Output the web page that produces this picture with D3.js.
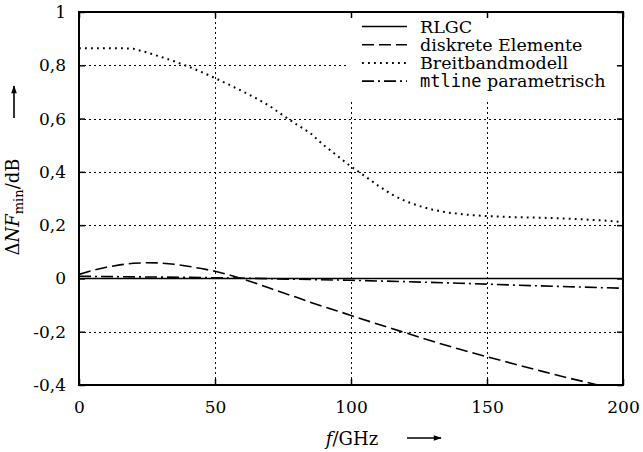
<!DOCTYPE html>
<html><head><meta charset="utf-8">
<script src="https://cdn.jsdelivr.net/npm/d3@7"></script>
<style>body{margin:0;background:#fff}svg{display:block}text{font-family:"DejaVu Serif",serif;fill:#000}</style>
</head><body><svg id="c" width="643" height="452"></svg>
<script>
// ---- data ----
const xTicks = [0, 50, 100, 150, 200];
const yTicks = [-0.4, -0.2, 0, 0.2, 0.4, 0.6, 0.8, 1];
const yTickLabels = ["-0,4", "-0,2", "0", "0,2", "0,4", "0,6", "0,8", "1"];
const seriesNames = ["RLGC", "diskrete Elemente", "Breitbandmodell", "mtline parametrisch"];

const fRLGC = [0, 200];
const vRLGC = [0, 0];

const fDisk = [0, 5, 10, 15, 20, 25, 30, 35, 40, 45, 50, 55, 60, 65, 70, 75, 80, 85, 90, 95, 100, 110, 120, 130, 140, 150, 160, 170, 180, 190, 200];
const vDisk = [0.015, 0.03, 0.042, 0.051, 0.057, 0.059, 0.058, 0.053, 0.046, 0.037, 0.027, 0.014, -0.002, -0.018, -0.036, -0.054, -0.071, -0.089, -0.106, -0.122, -0.139, -0.172, -0.204, -0.236, -0.266, -0.294, -0.321, -0.348, -0.374, -0.398, -0.42];

const fBreit = [0, 5, 10, 15, 20, 25, 30, 35, 40, 45, 50, 55, 60, 65, 70, 75, 80, 85, 90, 95, 100, 105, 110, 115, 120, 125, 130, 135, 140, 145, 150, 155, 160, 165, 170, 175, 180, 185, 190, 195, 200];
const vBreit = [0.864, 0.864, 0.864, 0.864, 0.862, 0.848, 0.832, 0.815, 0.796, 0.775, 0.752, 0.728, 0.703, 0.677, 0.648, 0.612, 0.578, 0.546, 0.50, 0.46, 0.42, 0.385, 0.348, 0.315, 0.29, 0.272, 0.258, 0.248, 0.242, 0.237, 0.234, 0.232, 0.230, 0.229, 0.228, 0.226, 0.224, 0.222, 0.219, 0.216, 0.211];

const fMt = [0, 20, 40, 60, 80, 100, 120, 140, 160, 180, 200];
const vMt = [0.008, 0.006, 0.004, 0.001, -0.003, -0.007, -0.012, -0.018, -0.025, -0.031, -0.037];

// ---- layout ----
const L = 79, R = 623, T = 12, B = 385;
const FONT = "'DejaVu Serif',serif";
const svg = d3.select("#c");
const x = d3.scaleLinear().domain([0, 200]).range([L, R]);
const y = d3.scaleLinear().domain([-0.4, 1]).range([B, T]);

const defs = svg.append("defs");
defs.append("clipPath").attr("id", "clip").append("rect")
  .attr("x", L).attr("y", T).attr("width", R - L).attr("height", B - T);
const mk = defs.append("marker").attr("id", "arr").attr("viewBox", "0 0 10 10")
  .attr("refX", 9).attr("refY", 5).attr("markerWidth", 11).attr("markerHeight", 8)
  .attr("markerUnits", "userSpaceOnUse").attr("orient", "auto");
mk.append("path").attr("d", "M0,1.5 L10,5 L0,8.5 Z").attr("fill", "#000");

// grid
const grid = svg.append("g").attr("shape-rendering", "crispEdges");
grid.selectAll(".gx").data(xTicks.slice(1, -1)).join("line")
  .attr("x1", d => Math.round(x(d)) + 0.5).attr("x2", d => Math.round(x(d)) + 0.5).attr("y1", T).attr("y2", B)
  .attr("stroke", "#000").attr("stroke-width", 1).attr("stroke-dasharray", "2,3");
grid.selectAll(".gy").data(yTicks.slice(1, -1)).join("line")
  .attr("y1", d => Math.round(y(d)) + 0.5).attr("y2", d => Math.round(y(d)) + 0.5).attr("x1", L).attr("x2", R)
  .attr("stroke", "#000").attr("stroke-width", 1).attr("stroke-dasharray", "2,3");

// legend background (hides grid)
svg.append("rect").attr("x", 347).attr("y", 17).attr("width", 273).attr("height", 84).attr("fill", "#fff");

// axes with inward ticks
const axL = d3.axisLeft(y).tickValues(yTicks).tickSize(-6).tickFormat((d, i) => yTickLabels[i]).tickPadding(13);
const axR = d3.axisRight(y).tickValues(yTicks).tickSize(-6).tickFormat("");
const axB = d3.axisBottom(x).tickValues(xTicks).tickSize(-6).tickFormat(d3.format("d")).tickPadding(16);
const axT = d3.axisTop(x).tickValues(xTicks).tickSize(-6).tickFormat("");
function styleAxis(g) {
  g.attr("font-family", null).attr("font-size", null);
  g.select(".domain").remove();
  g.selectAll(".tick line").attr("stroke", "#000").attr("stroke-width", 1.5);
  g.selectAll("text").style("font-family", FONT).style("font-size", "17px").attr("fill", "#000");
}
svg.append("g").attr("transform", `translate(${L},0)`).call(axL).call(styleAxis);
svg.append("g").attr("transform", `translate(${R},0)`).call(axR).call(styleAxis);
svg.append("g").attr("transform", `translate(0,${B})`).call(axB).call(styleAxis);
svg.append("g").attr("transform", `translate(0,${T})`).call(axT).call(styleAxis);

// series
const line = d3.line().x(d => x(d[0])).y(d => y(d[1]));
const plot = svg.append("g").attr("clip-path", "url(#clip)");
const styles = [
  { dash: null, w: 1.5 },
  { dash: "12,5", w: 1.6 },
  { dash: "1.8,4.2", w: 2 },
  { dash: "12,4,2,4", w: 1.6 }
];
const series = [
  d3.zip(fRLGC, vRLGC),
  d3.zip(fDisk, vDisk),
  d3.zip(fBreit, vBreit),
  d3.zip(fMt, vMt)
];
series.forEach((s, i) => {
  plot.append("path").attr("d", line(s)).attr("fill", "none").attr("stroke", "#000")
    .attr("stroke-width", styles[i].w).attr("stroke-dasharray", styles[i].dash);
});

// frame
svg.append("rect").attr("x", L).attr("y", T).attr("width", R - L).attr("height", B - T)
  .attr("fill", "none").attr("stroke", "#000").attr("stroke-width", 2);

// legend
const lg = svg.append("g");
const rowsY = [32.5, 50.7, 68.9, 87.1];
seriesNames.forEach((n, i) => {
  lg.append("line").attr("x1", 362).attr("x2", 407).attr("y1", rowsY[i] - 6).attr("y2", rowsY[i] - 6)
    .attr("stroke", "#000").attr("stroke-width", styles[i].w).attr("stroke-dasharray", styles[i].dash);
  const t = lg.append("text").attr("x", 420).attr("y", rowsY[i]).style("font-size", "17.5px");
  if (i === 3) {
    t.append("tspan").text("mtline").style("font-family", "'DejaVu Sans Mono',monospace").style("font-size", "17px");
    t.append("tspan").text(" parametrisch");
  } else t.text(n);
});

// axis labels
const yl = svg.append("text").attr("transform", "translate(19,207) rotate(-90)")
  .attr("text-anchor", "middle").style("font-size", "18px");
yl.append("tspan").text("Δ");
yl.append("tspan").text("NF").style("font-style", "italic");
yl.append("tspan").text("min").style("font-size", "13px").attr("dy", 4);
yl.append("tspan").text("/dB").attr("dy", -4);
svg.append("line").attr("x1", 14).attr("x2", 14).attr("y1", 118).attr("y2", 86)
  .attr("stroke", "#000").attr("stroke-width", 1.6).attr("marker-end", "url(#arr)");

const xl = svg.append("text").attr("x", 352).attr("y", 445).attr("text-anchor", "middle").style("font-size", "18px");
xl.append("tspan").text("f").style("font-style", "italic");
xl.append("tspan").text("/GHz");
svg.append("line").attr("x1", 407).attr("x2", 441).attr("y1", 438).attr("y2", 438)
  .attr("stroke", "#000").attr("stroke-width", 1.6).attr("marker-end", "url(#arr)");
</script></body></html>
